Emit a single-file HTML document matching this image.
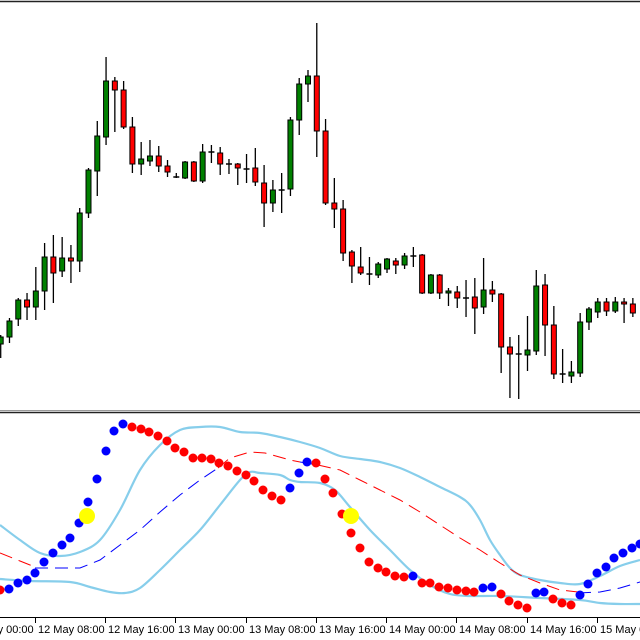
<!DOCTYPE html>
<html><head><meta charset="utf-8"><style>
html,body{margin:0;padding:0;background:#fff;width:640px;height:640px;overflow:hidden}
svg{display:block}
text{font-family:"Liberation Sans",sans-serif;font-size:11px;fill:#000}
</style></head><body>
<svg id="s" width="640" height="640" viewBox="0 0 640 640" xmlns="http://www.w3.org/2000/svg">
<rect width="640" height="640" fill="#fff"/>
<line x1="0" y1="1.5" x2="640" y2="1.5" stroke="#222" stroke-width="1.5"/>
<line x1="0" y1="410.5" x2="640" y2="410.5" stroke="#999" stroke-width="1"/>
<line x1="0" y1="412.5" x2="640" y2="412.5" stroke="#222" stroke-width="1.5"/>
<g id="c"></g>
<g id="bands" fill="none" stroke="#87CEEB" stroke-width="2.2" stroke-linejoin="round"></g>
<g fill="none" stroke-width="1" stroke-dasharray="13,7">
<polyline stroke="#f00" points="0,553 20,561 35,567"/>
<polyline stroke="#00f" points="35,568 80,568 100,560 120,545 140,530 160,512 180,495 200,480 218,468"/>
<polyline stroke="#f00" points="218,468 230,458 250,452 265,453 290,460 300,462"/>
<polyline stroke="#00f" points="300,462 318,465"/>
<polyline stroke="#f00" points="318,465 340,470 360,480 380,490 400,500 420,512 440,525 460,538 480,550 500,563 520,575 540,583 560,590 578,592"/>
<polyline stroke="#00f" points="578,593 600,592 620,588 640,582"/>
</g>
<g id="d"></g>
<circle cx="87" cy="516" r="8" fill="#ff0"/>
<circle cx="351" cy="516" r="8" fill="#ff0"/>
<line x1="0" y1="617.5" x2="640" y2="617.5" stroke="#000" stroke-width="1"/>
<g stroke="#000" stroke-width="1">
<line x1="35.5" y1="617" x2="35.5" y2="623"/><line x1="105.5" y1="617" x2="105.5" y2="623"/>
<line x1="175.5" y1="617" x2="175.5" y2="623"/><line x1="246.5" y1="617" x2="246.5" y2="623"/>
<line x1="316.5" y1="617" x2="316.5" y2="623"/><line x1="386.5" y1="617" x2="386.5" y2="623"/>
<line x1="456.5" y1="617" x2="456.5" y2="623"/><line x1="527.5" y1="617" x2="527.5" y2="623"/>
<line x1="597.5" y1="617" x2="597.5" y2="623"/>
</g>
<text x="-33" y="633">12 May 00:00</text>
<text x="38" y="633">12 May 08:00</text>
<text x="108" y="633">12 May 16:00</text>
<text x="178" y="633">13 May 00:00</text>
<text x="249" y="633">13 May 08:00</text>
<text x="319" y="633">13 May 16:00</text>
<text x="389" y="633">14 May 00:00</text>
<text x="459" y="633">14 May 08:00</text>
<text x="530" y="633">14 May 16:00</text>
<text x="600" y="633">15 May 00:00</text>
</svg>
<script>
function smooth(p){var d='M'+p[0][0]+','+p[0][1];for(var i=0;i<p.length-1;i++){var p0=p[i-1]||p[i],p1=p[i],p2=p[i+1],p3=p[i+2]||p2;
d+=' C'+(p1[0]+(p2[0]-p0[0])/6)+','+(p1[1]+(p2[1]-p0[1])/6)+' '+(p2[0]-(p3[0]-p1[0])/6)+','+(p2[1]-(p3[1]-p1[1])/6)+' '+p2[0]+','+p2[1];}return d;}
var U=[[0,525],[20,540],[40,553],[60,556],[80,552],[100,540],[120,510],[140,470],[160,445],[180,430],[200,427],[220,427],[240,432],[260,433],[280,437],[300,442],[320,448],[340,456],[360,459],[380,462],[400,468],[420,477],[440,487],[460,497],[470,505],[480,520],[490,540],[500,555],[510,568],[520,575],[540,580],[560,583],[580,584],[600,576],[620,566],[640,560]];
var L=[[0,579],[30,581],[70,582],[90,587],[110,592],[125,593],[140,588],[160,570],[180,550],[200,530],[220,505],[240,480],[250,472],[260,473],[280,475],[290,480],[300,482],[320,483],[335,490],[350,507],[370,530],[390,550],[410,570],[430,585],[450,594],[470,596],[500,596],[540,598],[580,600],[600,603],[620,604],[640,604]];
document.getElementById('bands').innerHTML='<path d="'+smooth(U)+'"/><path d="'+smooth(L)+'"/>';
var C=[[337,344,'g',335,358],[321,337,'g',318,343],[300,319,'g',298,326],[300,307,'r',293,320],[291,307,'g',267,320],[257,291,'g',243,310],[257,273,'r',235,303],[258,271,'g',237,277],[258,261,'r',245,283],[213,261,'g',208,272],
[170,213,'g',168,218],[136,171,'g',121,196],[81,137,'g',57,145],[81,90,'r',77,132],[90,127,'r',81,129],[127,164,'r',117,173],[159,164,'g',142,175],[156,161,'g',140,166],[156,166,'r',146,172],[166,172,'r',160,177],
[177,177,'d',173,178],[162,178,'g',161,179],[162,181,'r',161,182],[152,181,'g',144,183],[152,152,'d',145,163],[153,164,'r',147,175],[164,164,'d',159,174],[164,168,'r',163,185],[169,169,'d',154,183],[168,182,'r',148,186],
[183,203,'r',165,227],[190,203,'g',180,212],[190,190,'d',173,213],[120,189,'g',117,196],[84,120,'g',78,135],[76,84,'g',70,102],[76,131,'r',23,157],[131,203,'r',119,205],[203,209,'r',178,228],[209,253,'r',200,261],
[252,266,'r',250,283],[267,273,'r',247,275],[274,274,'d',257,285],[264,275,'g',262,278],[259,269,'g',258,273],[261,265,'r',258,274],[256,265,'g',253,269],[256,256,'d',247,267],[255,293,'r',254,294],[275,293,'g',274,294],
[275,293,'r',274,299],[291,293,'g',288,306],[292,298,'r',286,308],[298,298,'d',280,317],[297,308,'r',278,334],[290,307,'g',258,314],[290,294,'r',281,302],[294,347,'r',293,373],[347,354,'r',337,398],[354,354,'d',335,399],
[350,355,'g',316,371],[286,351,'g',270,355],[285,325,'r',274,356],[325,374,'r',306,379],[374,374,'d',349,383],[372,376,'g',361,383],[322,373,'g',313,377],[309,322,'g',307,330],[302,312,'g',298,318],[302,311,'r',298,316],
[302,311,'g',297,313],[302,304,'r',298,323],[304,313,'r',298,317]];
var h='';
C.forEach(function(c,i){var x=0.7+i*8.78;
h+='<line x1="'+x+'" y1="'+c[3]+'" x2="'+x+'" y2="'+c[4]+'" stroke="#000" stroke-width="1.3"/>';
if(c[2]=='d'){h+='<line x1="'+(x-3)+'" y1="'+c[0]+'" x2="'+(x+3)+'" y2="'+c[0]+'" stroke="#000" stroke-width="1.5"/>';}
else{var hh=Math.max(c[1]-c[0],2);h+='<rect x="'+(x-2.5)+'" y="'+c[0]+'" width="5" height="'+hh+'" fill="'+(c[2]=='g'?'#008000':'#f00')+'" stroke="#000" stroke-width="1"/>';}
});
document.getElementById('c').innerHTML=h;
var D=[[0,590,'r'],[9,589,'b'],[18,583,'b'],[27,580,'b'],[35,573,'b'],[44,562,'b'],[53,553,'b'],[62,545,'b'],[70,538,'b'],[79,523,'b'],[88,502,'b'],[97,479,'b'],[106,451,'b'],[114,431,'b'],[123,424,'b'],
[132,427,'r'],[141,429,'r'],[149,432,'r'],[158,436,'r'],[167,441,'r'],[175,448,'r'],[184,452,'r'],[193,458,'r'],[202,458,'r'],[211,459,'r'],[219,463,'r'],[228,466,'r'],[237,471,'r'],[246,475,'r'],[254,481,'r'],[263,490,'r'],[272,496,'r'],[281,500,'r'],
[290,488,'b'],[299,473,'b'],[307,462,'b'],[316,463,'r'],[325,479,'r'],[333,493,'r'],[342,514,'r'],[351,533,'r'],[360,548,'r'],[369,562,'r'],[378,568,'r'],[386,572,'r'],[395,576,'r'],[404,577,'r'],[413,576,'b'],[422,583,'r'],[430,583,'r'],[439,587,'r'],[448,588,'r'],[457,590,'r'],[466,591,'r'],[474,592,'r'],
[483,588,'b'],[492,587,'b'],[501,594,'r'],[509,601,'r'],[518,605,'r'],[527,608,'r'],[536,593,'b'],[544,592,'b'],[553,599,'r'],[562,603,'r'],[571,605,'r'],[580,595,'b'],[588,584,'b'],[597,573,'b'],[606,567,'b'],[614,558,'b'],[623,553,'b'],[632,548,'b'],[640,544,'b']];
var g='';D.forEach(function(d){g+='<circle cx="'+d[0]+'" cy="'+d[1]+'" r="4.5" fill="'+(d[2]=='r'?'#f00':'#00f')+'"/>';});
document.getElementById('d').innerHTML=g;
</script>
</body></html>
